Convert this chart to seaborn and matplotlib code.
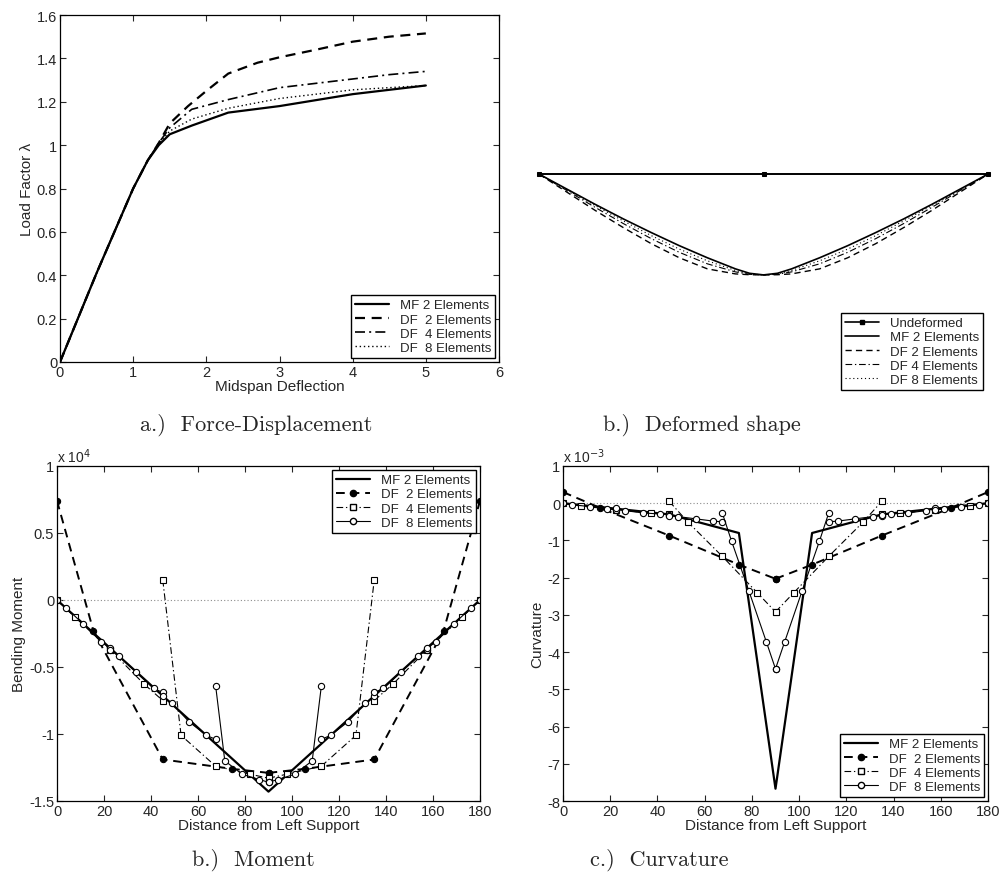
import numpy as np
import pandas as pd
import seaborn as sns
from matplotlib import pyplot as plt
from matplotlib.lines import Line2D

sns.set_style("ticks")
plt.rcParams['font.family'] = ['Liberation Sans', 'DejaVu Sans']
plt.rcParams['axes.unicode_minus'] = False

## DATA ##
# a.) force - displacement
fd_mf2_x = [0, 0.5, 1.0, 1.2, 1.35, 1.5, 1.8, 2.3, 3.0, 4.0, 5.0]
fd_mf2_y = [0, 0.41, 0.80, 0.93, 1.00, 1.05, 1.09, 1.15, 1.18, 1.235, 1.275]
fd_df2_x = [0, 0.5, 1.0, 1.2, 1.35, 1.5, 1.75, 2.0, 2.3, 2.7, 3.0, 3.5, 4.0, 4.5, 5.0]
fd_df2_y = [0, 0.41, 0.80, 0.93, 1.01, 1.10, 1.18, 1.25, 1.33, 1.38, 1.405, 1.44, 1.477, 1.50, 1.515]
fd_df4_x = [0, 0.5, 1.0, 1.2, 1.35, 1.5, 1.8, 2.3, 3.0, 3.5, 4.0, 4.5, 5.0]
fd_df4_y = [0, 0.41, 0.80, 0.93, 1.01, 1.08, 1.165, 1.21, 1.265, 1.285, 1.305, 1.325, 1.34]
fd_df8_x = [0, 0.5, 1.0, 1.2, 1.35, 1.5, 1.8, 2.3, 3.0, 4.0, 5.0]
fd_df8_y = [0, 0.41, 0.80, 0.93, 1.005, 1.065, 1.12, 1.17, 1.215, 1.255, 1.275]

# b.) deformed shape
def_x = [0, 11.25, 22.5, 33.75, 45, 56.25, 67.5, 78.75, 84.4, 90,
         95.6, 101.25, 112.5, 123.75, 135, 146.25, 157.5, 168.75, 180]
def_mf2 = [0, -0.75, -1.5, -2.22, -2.9, -3.55, -4.15, -4.7, -4.92, -5.0,
           -4.92, -4.7, -4.15, -3.55, -2.9, -2.22, -1.5, -0.75, 0]
def_df2 = [0, -0.9, -1.8, -2.65, -3.45, -4.15, -4.7, -4.95, -4.99, -5.0,
           -4.99, -4.95, -4.7, -4.15, -3.45, -2.65, -1.8, -0.9, 0]
def_df4 = [0, -0.82, -1.65, -2.45, -3.2, -3.88, -4.45, -4.85, -4.97, -5.0,
           -4.97, -4.85, -4.45, -3.88, -3.2, -2.45, -1.65, -0.82, 0]
def_df8 = [0, -0.78, -1.56, -2.32, -3.05, -3.72, -4.3, -4.78, -4.95, -5.0,
           -4.95, -4.78, -4.3, -3.72, -3.05, -2.32, -1.56, -0.78, 0]
undef_x = [0, 90, 180]
undef_y = [0, 0, 0]

# integration point locations
mf2_x = [0, 15.5, 45, 74.5, 90, 105.5, 135, 164.5, 180]
df2_x = [0, 15.5, 45, 74.5, 90, 90, 105.5, 135, 164.5, 180]
df4_x = [0, 7.8, 22.5, 37.2, 45, 45, 52.8, 67.5, 82.2, 90,
         90, 97.8, 112.5, 127.2, 135, 135, 142.8, 157.5, 172.2, 180]
df8_x = [0, 3.9, 11.25, 18.6, 22.5, 22.5, 26.4, 33.75, 41.1, 45,
         45, 48.9, 56.25, 63.6, 67.5, 67.5, 71.4, 78.75, 86.1, 90,
         90, 93.9, 101.25, 108.6, 112.5, 112.5, 116.4, 123.75, 131.1, 135,
         135, 138.9, 146.25, 153.6, 157.5, 157.5, 161.4, 168.75, 176.1, 180]

# moment (x 10^4)
mom_mf2 = [0, -0.246, -0.715, -1.184, -1.43, -1.184, -0.715, -0.246, 0]
mom_df2 = [0.74, -0.23, -1.19, -1.26, -1.29, -1.29, -1.26, -1.19, -0.23, 0.74]
mom_df4 = [0, -0.13, -0.37, -0.63, -0.75, 0.15, -1.01, -1.24, -1.30, -1.33,
           -1.33, -1.30, -1.24, -1.01, 0.15, -0.75, -0.63, -0.37, -0.13, 0]
mom_df8 = [0, -0.06, -0.18, -0.31, -0.36, -0.37, -0.42, -0.54, -0.66, -0.69,
           -0.72, -0.77, -0.91, -1.01, -1.04, -0.64, -1.20, -1.30, -1.34, -1.36,
           -1.36, -1.34, -1.30, -1.20, -0.64, -1.04, -1.01, -0.91, -0.77, -0.72,
           -0.69, -0.66, -0.54, -0.42, -0.37, -0.36, -0.31, -0.18, -0.06, 0]

# curvature (x 10^-3)
curv_mf2 = [0, -0.1, -0.3, -0.8, -7.67, -0.8, -0.3, -0.1, 0]
curv_df2 = [0.3, -0.12, -0.87, -1.65, -2.03, -2.03, -1.65, -0.87, -0.12, 0.3]
curv_df4 = [0, -0.08, -0.17, -0.27, -0.3, 0.05, -0.5, -1.43, -2.4, -2.92,
            -2.92, -2.4, -1.43, -0.5, 0.05, -0.3, -0.27, -0.17, -0.08, 0]
curv_df8 = [0, -0.04, -0.09, -0.15, -0.18, -0.14, -0.2, -0.26, -0.29, -0.31,
            -0.33, -0.36, -0.42, -0.48, -0.5, -0.27, -1.02, -2.36, -3.72, -4.45,
            -4.45, -3.72, -2.36, -1.02, -0.27, -0.5, -0.48, -0.42, -0.36, -0.33,
            -0.31, -0.29, -0.26, -0.2, -0.14, -0.18, -0.15, -0.09, -0.04, 0]

labels = ['MF 2 Elements', 'DF  2 Elements', 'DF  4 Elements', 'DF  8 Elements']

## STYLES ##
ls_dash = (0, (4.5, 3))
ls_dashdot = (0, (6, 2.5, 1.2, 2.5))
ls_dot = (0, (1, 2))
ls_dot_thin = (0, (1, 2.5))
ms_circ = 4.5
ms_sq = 3.8
legend_kw = dict(frameon=True, fancybox=False, edgecolor='k', framealpha=1,
                 fontsize=9.5, handlelength=2.6, borderpad=0.3, labelspacing=0.15,
                 handletextpad=0.8, borderaxespad=0.3)


def elem_frame(x, y):
    # 5 integration points per element, elements drawn as separate pieces
    return pd.DataFrame({'x': x, 'y': y, 'elem': np.arange(len(x)) // 5})


def line(ax, x, y, **kw):
    df = pd.DataFrame({'x': x, 'y': y})
    sns.lineplot(data=df, x='x', y='y', sort=False, estimator=None, ax=ax,
                 color='k', legend=False, **kw)


def elem_line(ax, x, y, **kw):
    sns.lineplot(data=elem_frame(x, y), x='x', y='y', units='elem', sort=False,
                 estimator=None, ax=ax, color='k', legend=False, **kw)


def matlab_axes(ax):
    ax.tick_params(direction='in', top=True, right=True, labelsize=10.5,
                   length=4, width=0.8, pad=2)
    for s in ax.spines.values():
        s.set_linewidth(0.9)
        s.set_color('k')
    ax.set_xlabel(ax.get_xlabel(), fontsize=11, labelpad=0)
    ax.set_ylabel(ax.get_ylabel(), fontsize=11, labelpad=2)


fig = plt.figure(figsize=(9.99, 8.87), dpi=100)
W, H = 999.0, 887.0


def add_ax(l, t, r, b):
    return fig.add_axes([l / W, 1 - b / H, (r - l) / W, (b - t) / H])


## a.) FORCE-DISPLACEMENT ##
ax1 = add_ax(60, 16, 499, 363)
line(ax1, fd_mf2_x, fd_mf2_y, linewidth=1.6, linestyle='-')
line(ax1, fd_df2_x, fd_df2_y, linewidth=1.6, linestyle=ls_dash)
line(ax1, fd_df4_x, fd_df4_y, linewidth=1.2, linestyle=ls_dashdot)
line(ax1, fd_df8_x, fd_df8_y, linewidth=1.0, linestyle=ls_dot)
ax1.set_xlim(0, 6)
ax1.set_ylim(0, 1.6)
ax1.set_xticks(range(7))
ax1.set_yticks(np.arange(0, 1.61, 0.2))
ax1.set_yticklabels(['0', '0.2', '0.4', '0.6', '0.8', '1', '1.2', '1.4', '1.6'])
ax1.set_xlabel('Midspan Deflection')
ax1.set_ylabel('Load Factor λ')
matlab_axes(ax1)
h1 = [Line2D([], [], color='k', lw=1.6, ls='-'),
      Line2D([], [], color='k', lw=1.6, ls=ls_dash),
      Line2D([], [], color='k', lw=1.2, ls=ls_dashdot),
      Line2D([], [], color='k', lw=1.0, ls=ls_dot)]
ax1.legend(h1, labels, loc='lower right', **legend_kw)

## b.) DEFORMED SHAPE ##
ax2 = add_ax(539, 165, 988, 286)
line(ax2, undef_x, undef_y, linewidth=1.4, linestyle='-', marker='s',
     markersize=3.5, mec='k', mfc='k', clip_on=False)
line(ax2, def_x, def_mf2, linewidth=1.2, linestyle='-', clip_on=False)
line(ax2, def_x, def_df2, linewidth=1.0, linestyle=ls_dash, clip_on=False)
line(ax2, def_x, def_df4, linewidth=0.8, linestyle=ls_dashdot, clip_on=False)
line(ax2, def_x, def_df8, linewidth=0.8, linestyle=ls_dot_thin, clip_on=False)
ax2.set_xlim(0, 180)
ax2.set_ylim(-5.5, 0.5)
ax2.axis('off')
h2 = [Line2D([], [], color='k', lw=1.2, ls='-', marker='s', markersize=3.5),
      Line2D([], [], color='k', lw=1.2, ls='-'),
      Line2D([], [], color='k', lw=1.0, ls=ls_dash),
      Line2D([], [], color='k', lw=0.8, ls=ls_dashdot),
      Line2D([], [], color='k', lw=0.8, ls=ls_dot_thin)]
labels2 = ['Undeformed', 'MF 2 Elements', 'DF 2 Elements', 'DF 4 Elements', 'DF 8 Elements']
leg_kw2 = dict(legend_kw)
leg_kw2['borderaxespad'] = 0
ax2.legend(h2, labels2, loc='upper right', bbox_to_anchor=(983 / W, 1 - 314 / H),
           bbox_transform=fig.transFigure, **leg_kw2)

## c.) MOMENT ##
ax3 = add_ax(57, 467, 480, 802)
ax3.axhline(0, color='0.55', lw=0.8, ls=ls_dot)
line(ax3, mf2_x, mom_mf2, linewidth=1.6, linestyle='-')
elem_line(ax3, df2_x, mom_df2, linewidth=1.4, linestyle=ls_dash, marker='o',
          markersize=ms_circ, mfc='k', mec='k', mew=0.8)
elem_line(ax3, df4_x, mom_df4, linewidth=0.8, linestyle=ls_dashdot, marker='s',
          markersize=ms_sq, mfc='w', mec='k', mew=0.8)
elem_line(ax3, df8_x, mom_df8, linewidth=0.8, linestyle='-', marker='o',
          markersize=ms_circ, mfc='w', mec='k', mew=0.8)
ax3.set_xlim(0, 180)
ax3.set_ylim(-1.5, 1)
ax3.set_xticks(range(0, 181, 20))
ax3.set_yticks([-1.5, -1, -0.5, 0, 0.5, 1])
ax3.set_yticklabels(['-1.5', '-1', '-0.5', '0', '0.5', '1'])
ax3.set_xlabel('Distance from Left Support')
ax3.set_ylabel('Bending Moment')
matlab_axes(ax3)
h3 = [Line2D([], [], color='k', lw=1.6, ls='-'),
      Line2D([], [], color='k', lw=1.4, ls=ls_dash, marker='o', markersize=ms_circ, mfc='k'),
      Line2D([], [], color='k', lw=0.8, ls=ls_dashdot, marker='s', markersize=ms_sq, mfc='w'),
      Line2D([], [], color='k', lw=0.8, ls='-', marker='o', markersize=ms_circ, mfc='w')]
ax3.legend(h3, labels, loc='upper right', numpoints=1, **legend_kw)
fig.text(57 / W, 1 - 466 / H, r'x 10$^{4}$', fontsize=10, va='bottom', ha='left')

## d.) CURVATURE ##
ax4 = add_ax(563, 467, 988, 802)
ax4.axhline(0, color='0.55', lw=0.8, ls=ls_dot)
line(ax4, mf2_x, curv_mf2, linewidth=1.6, linestyle='-')
elem_line(ax4, df2_x, curv_df2, linewidth=1.4, linestyle=ls_dash, marker='o',
          markersize=ms_circ, mfc='k', mec='k', mew=0.8)
elem_line(ax4, df4_x, curv_df4, linewidth=0.8, linestyle=ls_dashdot, marker='s',
          markersize=ms_sq, mfc='w', mec='k', mew=0.8)
elem_line(ax4, df8_x, curv_df8, linewidth=0.8, linestyle='-', marker='o',
          markersize=ms_circ, mfc='w', mec='k', mew=0.8)
ax4.set_xlim(0, 180)
ax4.set_ylim(-8, 1)
ax4.set_xticks(range(0, 181, 20))
ax4.set_yticks(range(-8, 2))
ax4.set_xlabel('Distance from Left Support')
ax4.set_ylabel('Curvature')
matlab_axes(ax4)
ax4.legend(h3, labels, loc='lower right', numpoints=1, **legend_kw)
fig.text(563 / W, 1 - 466 / H, r'x 10$^{-3}$', fontsize=10, va='bottom', ha='left')

## CAPTIONS ##
cap_kw = dict(fontsize=16, family='cmr10', ha='center', va='center')
fig.text(256 / W, 1 - 425 / H, 'a.)  Force-Displacement', **cap_kw)
fig.text(702 / W, 1 - 425 / H, 'b.)  Deformed shape', **cap_kw)
fig.text(253 / W, 1 - 860 / H, 'b.)  Moment', **cap_kw)
fig.text(659 / W, 1 - 860 / H, 'c.)  Curvature', **cap_kw)

fig.savefig('out.png', dpi=100)
